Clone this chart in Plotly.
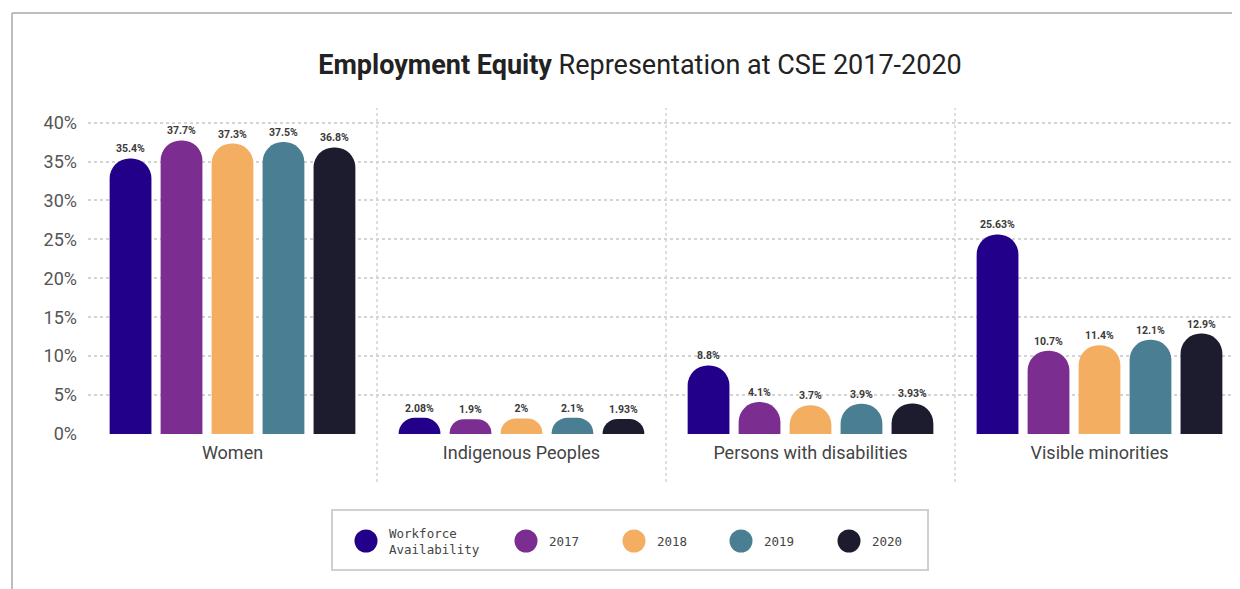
import plotly.graph_objects as go

categories = ["Women", "Indigenous Peoples", "Persons with disabilities", "Visible minorities"]
series_names = ["Workforce Availability", "2017", "2018", "2019", "2020"]
legend_labels = ["Workforce<br>Availability", "2017", "2018", "2019", "2020"]
workforce = [35.4, 2.08, 8.8, 25.63]
y2017 = [37.7, 1.9, 4.1, 10.7]
y2018 = [37.3, 2.0, 3.7, 11.4]
y2019 = [37.5, 2.1, 3.9, 12.1]
y2020 = [36.8, 1.93, 3.93, 12.9]
series_values = [workforce, y2017, y2018, y2019, y2020]
y_ticks = [0, 5, 10, 15, 20, 25, 30, 35, 40]
y_tick_labels = [f"{t}%" for t in y_ticks]

colors = ["#23008A", "#7B2E8F", "#F4AE62", "#4A7F93", "#1D1B2E"]
FONT = "Roboto, Liberation Sans, sans-serif"

# page has an 8px body margin; figure sized so it fills the 1240x589 window
OFF = 8
W, H = 1240 - OFF, 589 - OFF
ML, MR = 88 - OFF, 0
MT = 107 - OFF
MB = H - (434 - OFF)
PW, PH = W - ML - MR, H - MT - MB


def px_x(p):  # reference pixel -> paper
    return (p - OFF - ML) / PW


def px_y(p):
    return (H - MB - (p - OFF)) / PH


fig = go.Figure()
for name, vals, col in zip(series_names, series_values, colors):
    fig.add_trace(go.Bar(
        x=categories, y=vals, name=name,
        marker=dict(color=col, cornerradius="50%", line=dict(width=0)),
        text=[f"{v:g}%" for v in vals],
        textposition="outside",
        textfont=dict(family=FONT, size=10.5, color="#3a3a3a", weight="bold"),
        cliponaxis=False,
        showlegend=False,
    ))

shapes = []
for i in range(len(categories) - 1):
    shapes.append(dict(type="line", xref="x", yref="paper", x0=i + 0.5, x1=i + 0.5,
                       y0=px_y(482), y1=px_y(108),
                       line=dict(color="#d4d4d4", width=1.5, dash="dot"), layer="below"))
shapes.append(dict(type="line", xref="paper", yref="paper", x0=px_x(12), x1=px_x(1240),
                   y0=px_y(13), y1=px_y(13), line=dict(color="#bdbdbd", width=2)))
shapes.append(dict(type="line", xref="paper", yref="paper", x0=px_x(12), x1=px_x(12),
                   y0=px_y(13), y1=px_y(589), line=dict(color="#bdbdbd", width=2)))
shapes.append(dict(type="rect", xref="paper", yref="paper", x0=px_x(332), x1=px_x(928),
                   y0=px_y(570), y1=px_y(510), line=dict(color="#d0d0d0", width=2),
                   fillcolor="white"))

annotations = []
legend_circle_x = [366, 526, 634, 741, 849]
legend_cy = 541
r = 11.5
for lab, col, cx in zip(legend_labels, colors, legend_circle_x):
    shapes.append(dict(type="circle", xref="paper", yref="paper",
                       x0=px_x(cx - r), x1=px_x(cx + r),
                       y0=px_y(legend_cy + r), y1=px_y(legend_cy - r),
                       fillcolor=col, line=dict(color=col, width=0)))
    annotations.append(dict(xref="paper", yref="paper", x=px_x(cx + r + 9), y=px_y(legend_cy),
                            text=lab, showarrow=False, xanchor="left", yanchor="middle",
                            align="left",
                            font=dict(family="DejaVu Sans Mono, Liberation Mono, monospace",
                                      size=12.5, color="#444")))

fig.update_layout(
    width=W, height=H,
    margin=dict(l=ML, r=MR, t=MT, b=MB, autoexpand=False),
    paper_bgcolor="white", plot_bgcolor="white",
    barmode="group", bargap=0.118, bargroupgap=0.18,
    title=dict(text="<b>Employment Equity</b> Representation at CSE 2017-2020",
               x=(640 - OFF) / W, xref="container", xanchor="center",
               y=1 - (65 - OFF) / H, yref="container", yanchor="middle",
               font=dict(family=FONT, size=27, color="#222")),
    xaxis=dict(range=[-0.5, -0.5 + PW / 289], showgrid=False, zeroline=False,
               showline=False, ticks="", ticklabelstandoff=6,
               tickfont=dict(family=FONT, size=18, color="#444")),
    yaxis=dict(range=[0, 42], tickvals=y_ticks, ticktext=y_tick_labels,
               showgrid=True, gridcolor="#d4d4d4", griddash="dot", gridwidth=1.5,
               zeroline=False, showline=False, ticks="", ticklabelstandoff=10,
               tickfont=dict(family=FONT, size=18, color="#555")),
    shapes=shapes, annotations=annotations,
    showlegend=False,
)

fig.write_html("out.html")
